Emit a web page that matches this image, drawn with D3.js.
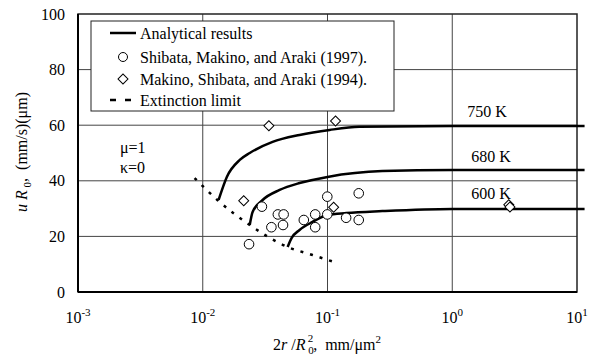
<!DOCTYPE html>
<html>
<head>
<meta charset="utf-8">
<script src="https://cdn.jsdelivr.net/npm/d3@7"></script>
<style>
  body { margin: 0; background: #fff; }
</style>
</head>
<body>
<div id="chart"></div>
<script>
// Analytical curves (x = 2r/R0^2, y = u R0)
const curve750 = [[0.0134, 33.1], [0.0156, 41.4], [0.0198, 47.5], [0.0238, 50.0], [0.0363, 54.0],
    [0.0597, 56.5], [0.104, 58.3], [0.18, 59.4], [1, 59.7], [11.5, 59.7]];
const curve680 = [[0.0238, 24.1], [0.0251, 28.8], [0.0302, 33.1], [0.0413, 36.7], [0.0597, 39.2],
    [0.1, 41.4], [0.275, 43.5], [1, 43.9], [11.5, 43.9]];
const curve600 = [[0.0479, 16.2], [0.0515, 19.4], [0.0597, 22.3], [0.0759, 25.2], [0.1, 27.7],
    [0.142, 28.4], [0.275, 29.1], [1, 29.9], [11.5, 29.9]];
const curveLabels = ["750 K", "680 K", "600 K"];

// Extinction limit
const extinction = [[0.0086, 41.0], [0.0131, 33.1], [0.0238, 24.1], [0.0479, 16.2], [0.0759, 13.3], [0.12, 10.4]];

// Shibata, Makino, and Araki (1997)
const shibata = [[0.0298, 30.7], [0.040, 27.9], [0.0445, 27.9], [0.044, 24.1], [0.0355, 23.3],
    [0.0235, 17.2], [0.0646, 25.9], [0.0797, 27.9], [0.0797, 23.3], [0.0996, 34.3],
    [0.0996, 27.9], [0.141, 26.7], [0.178, 35.5], [0.178, 25.9]];

// Makino, Shibata, and Araki (1994)
const makino = [[0.0213, 32.8], [0.0339, 59.8], [0.116, 61.5], [0.112, 30.5], [2.84, 31.4], [2.9, 30.6]];

const xTicks = [0.001, 0.01, 0.1, 1, 10];
const xExponents = ["-3", "-2", "-1", "0", "1"];
const yTicks = [0, 20, 40, 60, 80, 100];
const legendLabels = ["Analytical results", "Shibata, Makino, and Araki (1997).",
    "Makino, Shibata, and Araki (1994).", "Extinction limit"];

const W = 589, H = 358;
const margin = { top: 14, right: 12, bottom: 66, left: 78 };
const width = W - margin.left - margin.right;
const height = H - margin.top - margin.bottom;
const fs = 16;

const svg = d3.select("#chart").append("svg")
    .attr("width", W)
    .attr("height", H);

const g = svg.append("g")
    .attr("transform", `translate(${margin.left},${margin.top})`);

const x = d3.scaleLog().domain([0.001, 10]).range([0, width]);
const y = d3.scaleLinear().domain([0, 100]).range([height, 0]);

// Grid
g.selectAll(".vgrid").data(xTicks.slice(1, -1)).join("line")
    .attr("x1", d => x(d)).attr("x2", d => x(d))
    .attr("y1", 0).attr("y2", height)
    .attr("stroke", "#444").attr("stroke-width", 1);
g.selectAll(".hgrid").data(yTicks.slice(1, -1)).join("line")
    .attr("x1", 0).attr("x2", width)
    .attr("y1", d => y(d)).attr("y2", d => y(d))
    .attr("stroke", "#444").attr("stroke-width", 1);

// Frame
g.append("rect")
    .attr("width", width).attr("height", height)
    .attr("fill", "none").attr("stroke", "#222").attr("stroke-width", 1.5);
g.append("line").attr("x1", 0).attr("x2", 0).attr("y1", 0).attr("y2", height)
    .attr("stroke", "#000").attr("stroke-width", 2);
g.append("line").attr("x1", 0).attr("x2", width).attr("y1", height).attr("y2", height)
    .attr("stroke", "#000").attr("stroke-width", 2);

// Y tick labels
g.selectAll(".ylab").data(yTicks).join("text")
    .attr("x", -13).attr("y", d => y(d)).attr("dy", "0.35em")
    .attr("text-anchor", "end").attr("font-size", fs)
    .text(d => d);

// X tick labels with superscripts
const xl = g.selectAll(".xlab").data(xTicks).join("text")
    .attr("x", d => x(d)).attr("y", height + 31)
    .attr("text-anchor", "middle").attr("font-size", fs);
xl.append("tspan").text("10");
xl.append("tspan").attr("dy", -7).attr("font-size", 11).text((d, i) => xExponents[i]);

// Axis titles
const xt = svg.append("text")
    .attr("x", 327).attr("y", 350)
    .attr("text-anchor", "middle").attr("font-size", fs);
xt.append("tspan").text("2");
xt.append("tspan").attr("font-style", "italic").text("r\u00a0");
xt.append("tspan").text("/");
xt.append("tspan").attr("font-style", "italic").text("R");
xt.append("tspan").attr("font-size", 11).attr("dy", 4).text("\u00a00");
xt.append("tspan").attr("font-size", 11).attr("dx", -6).attr("dy", -12).text("2");
xt.append("tspan").attr("dy", 8).text(",\u00a0\u00a0mm/\u03bcm");
xt.append("tspan").attr("font-size", 11).attr("dy", -7).text("2");

const yt = svg.append("text")
    .attr("transform", "translate(27,152) rotate(-90)")
    .attr("text-anchor", "middle").attr("font-size", fs);
yt.append("tspan").attr("font-style", "italic").text("u\u00a0R");
yt.append("tspan").attr("font-size", 11).attr("dy", 4).text("\u00a00");
yt.append("tspan").attr("dy", -4).text(",\u00a0\u00a0(mm/s)(\u03bcm)");

// Analytical curves
const line = d3.line().x(d => x(d[0])).y(d => y(d[1])).curve(d3.curveMonotoneX);
[curve750, curve680, curve600].forEach(c => {
    g.append("path").datum(c)
        .attr("d", line)
        .attr("fill", "none").attr("stroke", "#000").attr("stroke-width", 2.5);
});

// Extinction limit
g.append("path").datum(extinction)
    .attr("d", d3.line().x(d => x(d[0])).y(d => y(d[1])).curve(d3.curveMonotoneX))
    .attr("fill", "none").attr("stroke", "#000").attr("stroke-width", 2.5)
    .attr("stroke-dasharray", "3,7");

// Curve labels
const labelPos = [[1.32, 62.8], [1.42, 46.9], [1.42, 33.3]];
g.selectAll(".clab").data(curveLabels).join("text")
    .attr("x", (d, i) => x(labelPos[i][0])).attr("y", (d, i) => y(labelPos[i][1]))
    .attr("font-size", fs)
    .text(d => d);

// Data markers
g.selectAll(".circ").data(shibata).join("circle")
    .attr("cx", d => x(d[0])).attr("cy", d => y(d[1])).attr("r", 4.8)
    .attr("fill", "#fff").attr("stroke", "#000").attr("stroke-width", 1);

const diamond = d3.symbol().type(d3.symbolSquare).size(50);
g.selectAll(".diam").data(makino).join("path")
    .attr("d", diamond)
    .attr("transform", d => `translate(${x(d[0])},${y(d[1])}) rotate(45)`)
    .attr("fill", "#fff").attr("stroke", "#000").attr("stroke-width", 1);

// mu / kappa note
g.append("text").attr("x", 42).attr("y", 139).attr("font-size", fs).text("\u03bc=1");
g.append("text").attr("x", 42).attr("y", 159).attr("font-size", fs).text("\u03ba=0");

// Legend
const lg = g.append("g").attr("transform", "translate(13,7)");
lg.append("rect").attr("width", 303).attr("height", 90)
    .attr("fill", "#fff").attr("stroke", "#222").attr("stroke-width", 1);
const rowY = [12, 36, 58, 79];
lg.append("line").attr("x1", 19).attr("x2", 45).attr("y1", rowY[0]).attr("y2", rowY[0])
    .attr("stroke", "#000").attr("stroke-width", 2.5);
lg.append("circle").attr("cx", 32).attr("cy", rowY[1]).attr("r", 4.5)
    .attr("fill", "#fff").attr("stroke", "#000");
lg.append("path").attr("d", diamond)
    .attr("transform", `translate(32,${rowY[2]}) rotate(45)`)
    .attr("fill", "#fff").attr("stroke", "#000");
lg.append("line").attr("x1", 19).attr("x2", 45).attr("y1", rowY[3]).attr("y2", rowY[3])
    .attr("stroke", "#000").attr("stroke-width", 2.5).attr("stroke-dasharray", "6,9");
lg.selectAll(".ltext").data(legendLabels).join("text")
    .attr("x", 49).attr("y", (d, i) => rowY[i]).attr("dy", "0.35em")
    .attr("font-size", fs)
    .text(d => d);

// serif font everywhere
svg.selectAll("text").style("font-family", "Liberation Serif").style("fill", "#000");
</script>
</body>
</html>
